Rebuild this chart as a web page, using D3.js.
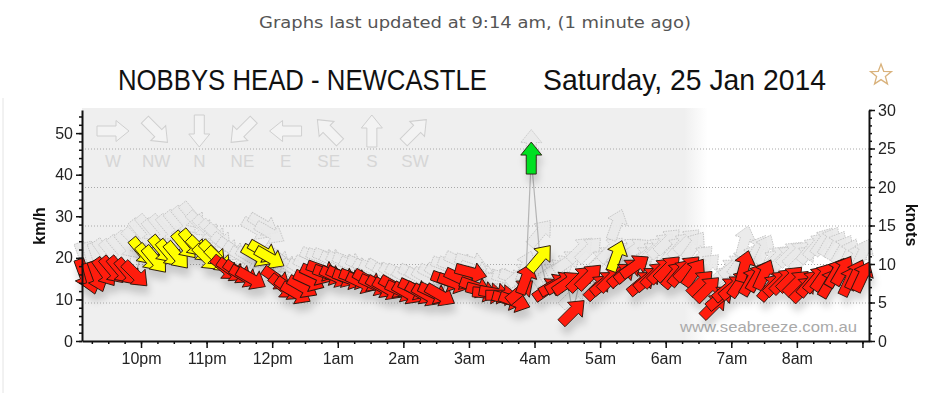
<!DOCTYPE html>
<html>
<head>
<meta charset="utf-8">
<script src="https://cdn.jsdelivr.net/npm/d3@7"></script>
<style>
  html, body { margin: 0; padding: 0; background: #fff; }
  svg { display: block; }
  text { font-family: "Liberation Sans", Arial, sans-serif; }
</style>
</head>
<body>
<svg id="chart" width="947" height="393"></svg>
<script>
// ---------------- DATA ----------------
const times = ["21:08","21:14","21:20","21:27","21:34","21:41","21:48","21:55",
  "22:01","22:07","22:13","22:19","22:26","22:33","22:40","22:47","22:54","23:00","23:06","23:11",
  "23:17","23:23","23:29","23:35","23:41","23:46","23:52","23:58",
  "00:04","00:10","00:16","00:22","00:28","00:34","00:40","00:46","00:52","00:58",
  "01:04","01:10","01:16","01:22","01:28","01:34","01:40","01:46","01:52","01:58",
  "02:04","02:10","02:16","02:22","02:28","02:34","02:40","02:46","02:52",
  "03:02","03:06","03:12","03:18","03:24","03:30","03:36","03:42","03:47","03:52","03:57",
  "04:05","04:12","04:18","04:24","04:30","04:35","04:42","04:50","04:58",
  "05:04","05:10","05:15","05:20","05:26","05:32","05:38","05:44","05:50","05:56",
  "06:02","06:08","06:14","06:20","06:26","06:32","06:38","06:44","06:50","06:56",
  "07:02","07:08","07:12","07:18","07:24","07:30","07:36","07:42","07:48","07:54",
  "08:00","08:06","08:12","08:18","08:24","08:30","08:36","08:42","08:48","08:54","09:00"];
const avgKmh = [16,15,15.5,16.5,17,17,16.5,16,
  21.5,20,19.5,22,21,20.5,23,23.5,22,20,21,19.5,
  17.5,17,16.5,15.5,15,20.5,21.5,20,
  15,13,12.5,11.5,13,14.5,16,17,16,15.5,
  15.5,15,15,14,14.5,13.5,13,12.5,13,12,
  11.5,12.5,11.5,11,11.5,11,14.5,14,15,
  16.5,13,12,11.5,11.5,11,10,9.5,12,15,44,
  20,12.5,13.5,14,14,7,15,15.5,13,
  14,15,20.5,16,17,18,14,15,16,17,
  17.5,16,16.5,17.5,16.5,14,12.5,8.5,10.5,12.5,
  13,14,18,14.5,15.5,16,13,14,14.5,15,
  14,12.5,14,15,15.5,14,16.5,17,14.5,16,15.5];
const gustKmh = [20,20,20,21,21,22,23,24,
  26,27,26,27,27,28,29,30,28,27,26,25,
  23,22,21,20,20,27,28,26,
  20,19,18,17,17,18,20,20,20,19,
  19,19,18,18,17,17,17,16,16,16,
  15,16,15,15,16,16,18,18,19,
  19,17,16,15,15,15,15,15,16,18,47,
  26,16,17,18,19,11,22,22,19,
  20,22,28,21,22,22,20,21,22,23,
  24,22,23,24,23,20,18,13,15,17,
  18,19,24,20,22,22,19,20,20,21,
  21,20,22,23,24,24,23,22,21,20,21];
const dirDeg = [340,345,340,325,320,320,320,315,
  320,320,320,320,320,320,320,320,315,315,315,315,
  310,305,305,300,300,300,300,300,
  305,310,305,300,300,295,295,290,290,295,
  295,290,290,295,300,295,300,300,300,295,
  300,295,300,300,295,300,290,290,295,
  285,290,285,275,280,270,285,290,230,200,180,
  220,235,240,240,235,225,225,225,225,
  230,225,200,230,230,235,230,230,225,225,
  225,220,220,225,215,225,225,225,230,230,
  230,215,195,210,210,205,220,225,225,225,
  225,225,220,220,215,210,210,210,205,205,205];

const hourLabels = ["10pm","11pm","12pm","1am","2am","3am","4am","5am","6am","7am","8am",""];
const kmhTicks = [0,10,20,30,40,50];
const knotTicks = [0,5,10,15,20,25,30];
const legendNames = ["W","NW","N","NE","E","SE","S","SW"];
const legendDirs = [270,315,0,45,90,135,180,225];

// ---------------- SETUP ----------------
const svg = d3.select("#chart");
const KMH_PER_KNOT = 1.852;
const pL = 82, pR = 869, pT = 110, pB = 341;

const parseT = s => {
  const [h, m] = s.split(":").map(Number);
  return new Date(2014, 0, h >= 12 ? 24 : 25, h, m);
};
const x = d3.scaleTime()
  .domain([new Date(2014,0,24,21,6), new Date(2014,0,25,9,6)])
  .range([pL, pR]);
const yKnots = d3.scaleLinear().domain([0, 30]).range([pB, pT]);
const yKmh = d3.scaleLinear().domain([0, 30 * KMH_PER_KNOT]).range([pB, pT]);
const colour = d3.scaleThreshold().domain([10, 20]).range(["#ff1a0a", "#ffff00", "#00e020"]);

const data = times.map((t, i) => ({
  t: parseT(t), avg: avgKmh[i], gust: gustKmh[i], dir: dirDeg[i]
}));

const AL = 32, AS = 5, AH = 10.5, AHL = 13;
const arrowPath = `M${-AL/2},${-AS}L${AL/2-AHL},${-AS}L${AL/2-AHL},${-AH}L${AL/2},0L${AL/2-AHL},${AH}L${AL/2-AHL},${AS}L${-AL/2},${AS}Z`;
const rot = d => d + 180 - 90; // arrow points where the wind blows to

// defs
const defs = svg.append("defs");
const grad = defs.append("linearGradient").attr("id", "bg")
  .attr("x1", 0).attr("x2", 1).attr("y1", 0).attr("y2", 0);
grad.append("stop").attr("offset", 0).attr("stop-color", "#efefef");
grad.append("stop").attr("offset", 0.765).attr("stop-color", "#efefef");
grad.append("stop").attr("offset", 0.795).attr("stop-color", "#ffffff");
grad.append("stop").attr("offset", 1).attr("stop-color", "#ffffff");
const f = defs.append("filter").attr("id", "shadow")
  .attr("x", "-20%").attr("y", "-20%").attr("width", "140%").attr("height", "160%");
f.append("feDropShadow").attr("dx", 2).attr("dy", 8).attr("stdDeviation", 3.5)
  .attr("flood-color", "#000").attr("flood-opacity", 0.16);

// page border line
svg.append("line").attr("x1", 3).attr("x2", 3).attr("y1", 98).attr("y2", 393)
  .attr("stroke", "#e4e4e4").attr("stroke-width", 1);

// header texts
svg.append("text").attr("x", 475).attr("y", 28).attr("text-anchor", "middle")
  .attr("textLength", 432).attr("lengthAdjust", "spacingAndGlyphs")
  .style("font-family", "'DejaVu Sans', Verdana, sans-serif")
  .style("font-size", "15px").attr("fill", "#555")
  .text("Graphs last updated at 9:14 am, (1 minute ago)");
svg.append("text").attr("x", 118).attr("y", 90)
  .attr("textLength", 369).attr("lengthAdjust", "spacingAndGlyphs")
  .style("font-size", "29px").attr("fill", "#111")
  .text("NOBBYS HEAD - NEWCASTLE");
svg.append("text").attr("x", 543).attr("y", 90)
  .attr("textLength", 283).attr("lengthAdjust", "spacingAndGlyphs")
  .style("font-size", "29px").attr("fill", "#111")
  .text("Saturday, 25 Jan 2014");
// star
const star = d3.range(10).map(i => {
  const r = i % 2 === 0 ? 11 : 4.6, a = -Math.PI / 2 + i * Math.PI / 5;
  return [881 + r * Math.cos(a), 75 + r * Math.sin(a)];
});
svg.append("path").attr("d", "M" + star.join("L") + "Z")
  .attr("fill", "none").attr("stroke", "#d9b27c").attr("stroke-width", 1.3);

// plot background
svg.append("rect").attr("x", pL).attr("y", 108).attr("width", pR - pL).attr("height", pB - 108)
  .attr("fill", "url(#bg)");

// gridlines at knots
svg.append("g").selectAll("line").data([5,10,15,20,25]).join("line")
  .attr("x1", pL).attr("x2", pR)
  .attr("y1", d => yKnots(d) + 0.5).attr("y2", d => yKnots(d) + 0.5)
  .attr("stroke", "#a8a8a8").attr("stroke-dasharray", "1,2");

// legend
const lx = d3.scalePoint().domain(legendNames).range([113, 415]);
const lg = svg.append("g");
lg.selectAll("path").data(legendNames).join("path")
  .attr("d", arrowPath)
  .attr("transform", (d, i) => `translate(${lx(d)},131) rotate(${rot(legendDirs[i])})`)
  .attr("fill", "#f3f3f3").attr("stroke", "#cfcfcf").attr("stroke-width", 1);
lg.selectAll("text").data(legendNames).join("text")
  .attr("x", d => lx(d)).attr("y", 167).attr("text-anchor", "middle")
  .style("font-size", "17px").attr("fill", "#d6d6d6")
  .text(d => d);

// watermark
svg.append("text").attr("x", 680).attr("y", 332)
  .attr("textLength", 177).attr("lengthAdjust", "spacingAndGlyphs")
  .style("font-size", "15px").attr("fill", "#a9a9a9")
  .text("www.seabreeze.com.au");

// gust ghost arrows
svg.append("g").selectAll("path").data(data).join("path")
  .attr("d", arrowPath)
  .attr("transform", d => `translate(${x(d.t)},${yKmh(d.gust)}) rotate(${rot(d.dir)})`)
  .attr("fill", "#e9e9e9").attr("fill-opacity", 0.9)
  .attr("stroke", "#c4c4c4").attr("stroke-width", 0.9).attr("stroke-dasharray", "1.5,1");

// average line
svg.append("path").datum(data)
  .attr("d", d3.line().x(d => x(d.t)).y(d => yKmh(d.avg)))
  .attr("fill", "none").attr("stroke", "#b4b4b4").attr("stroke-width", 1.2);

// coloured arrows
svg.append("g").attr("filter", "url(#shadow)")
  .selectAll("path").data(data).join("path")
  .attr("d", arrowPath)
  .attr("transform", d => `translate(${x(d.t)},${yKmh(d.avg)}) rotate(${rot(d.dir)})`)
  .attr("fill", d => colour(d.avg / KMH_PER_KNOT))
  .attr("stroke", "#2a1a10").attr("stroke-width", 0.9).attr("stroke-linejoin", "round");

// ---------------- AXES ----------------
const axisStyle = g => {
  g.selectAll("path.domain").attr("stroke", "#111").attr("stroke-width", 2);
  g.selectAll(".tick line").attr("stroke", "#111").attr("stroke-width", 1.5);
  g.selectAll("text").style("font-family", "'Liberation Sans', Arial, sans-serif")
    .style("font-size", "16px").attr("fill", "#222");
};
// left minor
svg.append("g").attr("transform", `translate(${pL},0)`)
  .call(d3.axisLeft(yKmh).tickValues(d3.range(0, 56, 2)).tickSize(3).tickFormat(""))
  .call(axisStyle).call(g => g.select(".domain").remove());
svg.append("g").attr("transform", `translate(${pL},0)`)
  .call(d3.axisLeft(yKmh).tickValues(kmhTicks).tickSize(6).tickPadding(3).tickSizeOuter(0))
  .call(axisStyle);
// right
svg.append("g").attr("transform", `translate(${pR},0)`)
  .call(d3.axisRight(yKnots).tickValues(d3.range(0, 31, 1)).tickSize(3).tickFormat(""))
  .call(axisStyle).call(g => g.select(".domain").remove());
svg.append("g").attr("transform", `translate(${pR},0)`)
  .call(d3.axisRight(yKnots).tickValues(knotTicks).tickSize(6).tickPadding(3).tickSizeOuter(0))
  .call(axisStyle);
// bottom
const hourTicks = d3.timeHour.range(new Date(2014,0,24,22), new Date(2014,0,25,9,1));
svg.append("g").attr("transform", `translate(0,${pB})`)
  .call(d3.axisBottom(x).tickValues(d3.timeMinute.every(15).range(x.domain()[0], x.domain()[1])).tickSize(3).tickFormat(""))
  .call(axisStyle).call(g => g.select(".domain").remove());
svg.append("g").attr("transform", `translate(0,${pB})`)
  .call(d3.axisBottom(x).tickValues(hourTicks).tickSize(7).tickPadding(5).tickSizeOuter(0)
    .tickFormat((d, i) => hourLabels[i]))
  .call(axisStyle);

// axis titles
svg.append("text").attr("transform", "translate(45,226) rotate(-90)").attr("text-anchor", "middle")
  .style("font-size", "16px").style("font-weight", "bold").attr("fill", "#111").text("km/h");
svg.append("text").attr("transform", "translate(906,225) rotate(90)").attr("text-anchor", "middle")
  .style("font-size", "16px").style("font-weight", "bold").attr("fill", "#111").text("knots");
</script>
</body>
</html>
